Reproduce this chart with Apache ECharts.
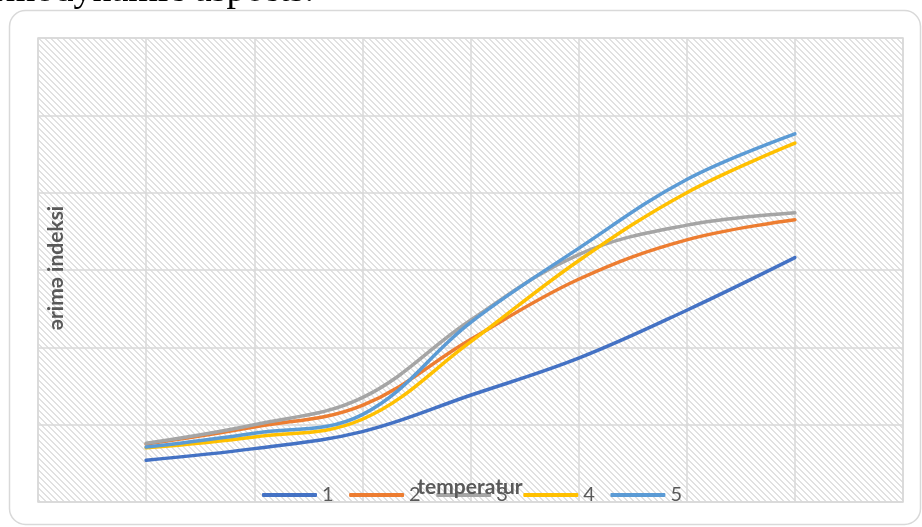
<!DOCTYPE html>
<html>
<head>
<meta charset="utf-8">
<script src="https://cdn.jsdelivr.net/npm/echarts@6/dist/echarts.min.js"></script>
<style>
  html, body { margin: 0; padding: 0; background: #ffffff; }
  #chart { width: 922px; height: 527px; }
</style>
</head>
<body>
<div id="chart"></div>
<script>
// Series names shown in the legend
const seriesNames = ['1', '2', '3', '4', '5'];
// Positions of the measurement points along the temperature axis
const xPositions = [1, 2, 3, 4, 5, 6, 7];
// Melting index values for each series
const series1 = [0.54, 0.69, 0.91, 1.38, 1.86, 2.48, 3.16];
const series2 = [0.75, 0.97, 1.25, 2.10, 2.88, 3.39, 3.65];
const series3 = [0.76, 1.00, 1.35, 2.35, 3.20, 3.58, 3.74];
const series4 = [0.70, 0.84, 1.07, 2.07, 3.12, 4.00, 4.64];
const series5 = [0.71, 0.89, 1.13, 2.32, 3.28, 4.17, 4.76];

const colors = ['#4472C4', '#ED7D31', '#A5A5A5', '#FFC000', '#5B9BD5'];
const allSeries = [series1, series2, series3, series4, series5];

// Diagonal hatch tile used as the plot-area fill
function hatchTile() {
  const P = 6;
  const c = document.createElement('canvas');
  c.width = P; c.height = P;
  const ctx = c.getContext('2d');
  const img = ctx.createImageData(P, P);
  for (let y = 0; y < P; y++) {
    for (let x = 0; x < P; x++) {
      const d = ((x - y) % P + P) % P;
      const v = d < 2 ? 225 : 255;
      const i = (y * P + x) * 4;
      img.data[i] = v; img.data[i + 1] = v; img.data[i + 2] = v; img.data[i + 3] = 255;
    }
  }
  ctx.putImageData(img, 0, 0);
  return c;
}

const chart = echarts.init(document.getElementById('chart'), null, { renderer: 'canvas' });

const option = {
  backgroundColor: '#ffffff',
  animation: false,
  color: colors,
  grid: {
    left: 38, top: 38, right: 19, bottom: 25,
    show: true,
    backgroundColor: { image: hatchTile(), repeat: 'repeat' },
    borderColor: '#d9d9d9',
    borderWidth: 1.5
  },
  xAxis: {
    type: 'value',
    min: 0, max: 8, interval: 1,
    axisLine: { show: false },
    axisTick: { show: false },
    axisLabel: { show: false },
    splitLine: { show: true, lineStyle: { color: '#d9d9d9', width: 1.5 } }
  },
  yAxis: {
    type: 'value',
    min: 0, max: 6, interval: 1,
    axisLine: { show: false },
    axisTick: { show: false },
    axisLabel: { show: false },
    splitLine: { show: true, lineStyle: { color: '#d9d9d9', width: 1.5 } }
  },
  legend: {
    data: seriesNames,
    left: 257, top: 480,
    icon: 'roundRect',
    itemWidth: 55, itemHeight: 4,
    itemGap: 15.5,
    textStyle: { color: '#595959', fontSize: 20, fontFamily: 'Lato', padding: [0, 0, 0, 0] }
  },
  graphic: [
    {
      type: 'rect',
      shape: { x: 9.5, y: 10.5, width: 911, height: 514, r: 16 },
      style: { fill: 'none', stroke: '#d9d9d9', lineWidth: 1.5 },
      silent: true, z: 0
    },
    {
      type: 'text',
      x: 314, y: 10,
      style: {
        text: 'thermodynamic aspects.',
        fill: '#000000',
        font: '38px "Liberation Serif", serif',
        align: 'right',
        verticalAlign: 'bottom'
      },
      silent: true
    },
    {
      type: 'text',
      x: 56, y: 268,
      rotation: Math.PI / 2,
      style: {
        text: 'ərimə indeksi',
        fill: '#595959',
        font: 'bold 21px Lato, "Noto Sans", sans-serif',
        align: 'center',
        verticalAlign: 'middle'
      },
      silent: true, z: 10
    },
    {
      type: 'text',
      x: 470, y: 487,
      style: {
        text: 'temperatur',
        fill: '#595959',
        font: 'bold 21px Lato, "Noto Sans", sans-serif',
        align: 'center',
        verticalAlign: 'middle'
      },
      silent: true, z: 10
    }
  ],
  series: allSeries.map((vals, k) => ({
    name: seriesNames[k],
    type: 'line',
    smooth: 0.38,
    showSymbol: false,
    symbol: 'none',
    lineStyle: { width: 3.5, color: colors[k], cap: 'round' },
    itemStyle: { color: colors[k] },
    data: xPositions.map((x, i) => [x, vals[i]])
  }))
};

chart.setOption(option);
</script>
</body>
</html>
